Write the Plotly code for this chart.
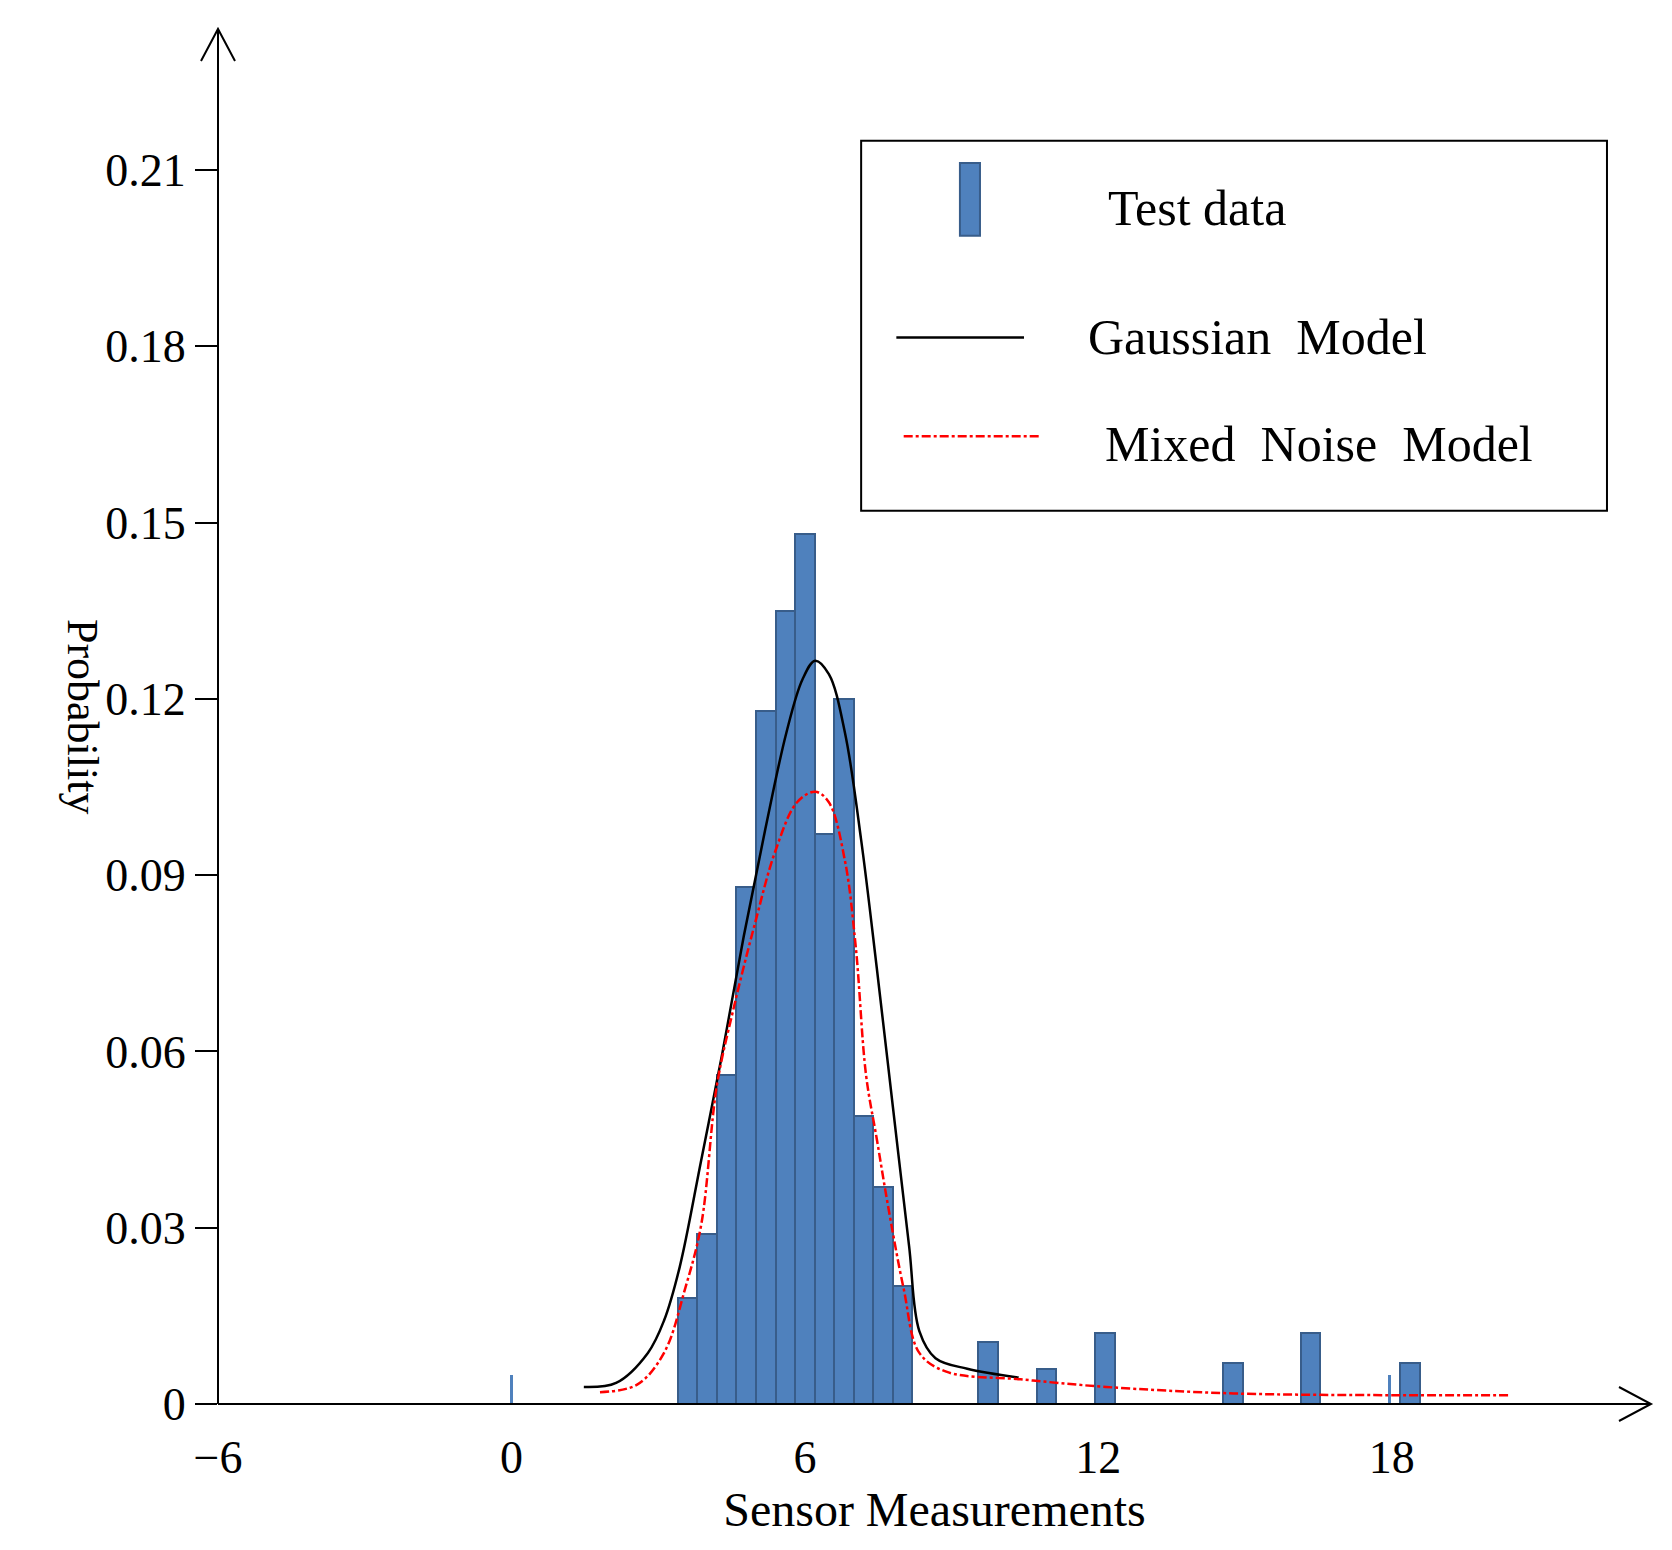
import plotly.graph_objects as go

# histogram of test data
bar_x = [3.6, 4.0, 4.4, 4.8, 5.2, 5.6, 6.0, 6.4, 6.8, 7.2, 7.6, 8.0,
         9.74, 10.94, 12.14, 14.75, 16.34, 18.37]
bar_y = [0.018, 0.029, 0.056, 0.088, 0.118, 0.135, 0.148, 0.097, 0.120, 0.049, 0.037, 0.020,
         0.0105, 0.006, 0.012, 0.007, 0.012, 0.007]
tick_x = [0.0, 17.95]
tick_y = [0.005, 0.005]

gauss_x = [1.48, 2.14, 2.79, 3.12, 3.44, 3.88, 4.31, 4.75, 5.19, 5.62, 5.95, 6.21,
           6.49, 6.82, 7.15, 7.47, 7.80, 8.13, 8.34, 8.67, 9.32, 10.37]
gauss_y = [0.0029, 0.0036, 0.0087, 0.0142, 0.0233, 0.0415, 0.0596, 0.0796, 0.0978, 0.1142,
           0.1233, 0.1265, 0.1242, 0.1142, 0.0960, 0.0742, 0.0505, 0.0269, 0.0124, 0.0078,
           0.0060, 0.0045]

mixed_x = [1.81, 2.57, 3.12, 3.55, 3.88, 4.20, 4.53, 4.97, 5.40, 5.84, 6.21, 6.49, 6.82,
           7.04, 7.25, 7.47, 7.69, 8.02, 8.34, 8.89, 10.41, 12.16, 14.77, 18.04, 20.44]
mixed_y = [0.0020, 0.0033, 0.0087, 0.0196, 0.0305, 0.0542, 0.0669, 0.0815, 0.0942, 0.1024,
           0.1042, 0.1024, 0.0924, 0.0778, 0.0560, 0.0451, 0.0342, 0.0196, 0.0087, 0.0055,
           0.0042, 0.0029, 0.0018, 0.0015, 0.0015]

x_ticks = [-6, 0, 6, 12, 18]
y_ticks = [0, 0.03, 0.06, 0.09, 0.12, 0.15, 0.18, 0.21]
y_labels = ["0", "0.03", "0.06", "0.09", "0.12", "0.15", "0.18", "0.21"]

FONT = "Liberation Serif"
BLUE = "#4F81BD"
EDGE = "#385D8A"

fig = go.Figure()
fig.add_trace(go.Bar(x=bar_x, y=bar_y, width=0.4, marker=dict(color=BLUE, line=dict(color=EDGE, width=2))))
fig.add_trace(go.Bar(x=tick_x, y=tick_y, width=0.05, marker=dict(color=BLUE, line=dict(width=0))))
fig.add_trace(go.Scatter(x=gauss_x, y=gauss_y, mode="lines", line=dict(color="black", width=2.5, shape="spline")))
fig.add_trace(go.Scatter(x=mixed_x, y=mixed_y, mode="lines",
                         line=dict(color="red", width=2.5, dash="dashdot", shape="spline")))

W, H = 1672, 1550
L, R, T, B = 210, 29, 21, 154
pw, ph = W - L - R, H - T - B

shapes = [
    dict(type="line", xref="paper", yref="paper", x0=0, y0=0, x1=1, y1=0, line=dict(color="black", width=2)),
    dict(type="line", xref="paper", yref="paper", x0=0, y0=0, x1=0, y1=1, line=dict(color="black", width=2)),
    dict(type="path", xref="paper", yref="paper",
         path=f"M {1-32/pw},{17/ph} L 1,0 L {1-32/pw},{-17/ph}", line=dict(color="black", width=2)),
    dict(type="path", xref="paper", yref="paper",
         path=f"M {-17/pw},{1-32/ph} L 0,1 L {17/pw},{1-32/ph}", line=dict(color="black", width=2)),
    # legend box
    dict(type="rect", xref="x", yref="y", x0=7.15, x1=22.4, y0=0.152, y1=0.215,
         line=dict(color="black", width=2), fillcolor="white", layer="above"),
    dict(type="rect", xref="x", yref="y", x0=9.17, x1=9.58, y0=0.1988, y1=0.2112,
         line=dict(color=EDGE, width=2), fillcolor=BLUE, layer="above"),
    dict(type="line", xref="x", yref="y", x0=7.87, x1=10.48, y0=0.1815, y1=0.1815,
         line=dict(color="black", width=2.5), layer="above"),
    dict(type="line", xref="x", yref="y", x0=8.02, x1=10.8, y0=0.1647, y1=0.1647,
         line=dict(color="red", width=2.5, dash="dashdot"), layer="above"),
]

annotations = [
    dict(x=12.15, y=0.2035, xref="x", yref="y", text="Test data", showarrow=False, xanchor="left",
         font=dict(family=FONT, size=50, color="black")),
    dict(x=11.75, y=0.1815, xref="x", yref="y", text="Gaussian  Model", showarrow=False, xanchor="left",
         font=dict(family=FONT, size=50, color="black")),
    dict(x=12.1, y=0.1633, xref="x", yref="y", text="Mixed  Noise  Model", showarrow=False, xanchor="left",
         font=dict(family=FONT, size=50, color="black")),
    dict(x=-0.113, y=0.5, xref="paper", yref="paper", text="Probability", showarrow=False, textangle=90,
         font=dict(family=FONT, size=44, color="black")),
]

fig.update_layout(
    width=W, height=H, margin=dict(l=L, r=R, t=T, b=B),
    plot_bgcolor="white", paper_bgcolor="white", showlegend=False, bargap=0,
    font=dict(family=FONT, size=46, color="black"),
    shapes=shapes, annotations=annotations,
    xaxis=dict(range=[-6, 23.3], tickvals=x_ticks, ticks="", showgrid=False, zeroline=False,
               showline=False, ticklabelstandoff=22,
               title=dict(text="Sensor Measurements", font=dict(size=48), standoff=8)),
    yaxis=dict(range=[0, 0.234], tickvals=y_ticks, ticktext=y_labels, ticks="outside", ticklen=22,
               tickwidth=2, tickcolor="black", showgrid=False, zeroline=False, showline=False),
)

fig.write_html("out.html")
